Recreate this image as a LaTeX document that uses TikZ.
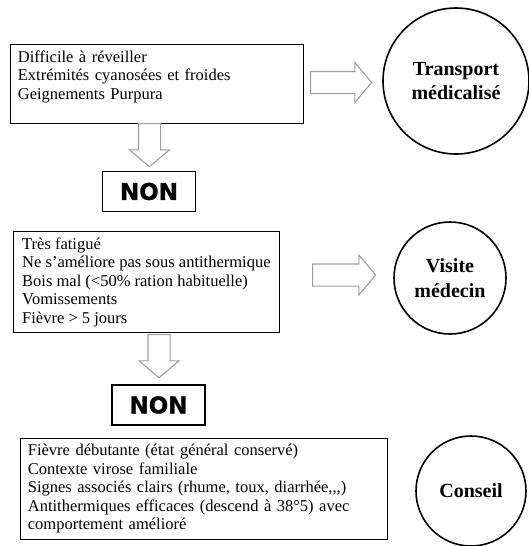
\documentclass[tikz,border=0pt]{standalone}
\usepackage{fontspec}
\setmainfont{Liberation Serif}
\newfontfamily\nonfont[BoldFeatures={FakeBold=1.2}]{DejaVu Sans}
\usetikzlibrary{shapes.arrows}

\begin{document}
\begin{tikzpicture}[x=1pt, y=-1pt, crit/.style={draw, rectangle, line width=0.8pt, inner xsep=7.5pt, inner ysep=6pt, align=left, anchor=north west, font=\fontsize{16.5}{18.5}\selectfont}, dec/.style={draw, circle, line width=1.6pt, inner sep=0pt, align=center, font=\fontsize{20}{24.5}\selectfont\bfseries}, non/.style={draw, rectangle, line width=1.2pt, minimum width=93pt, minimum height=40pt, font=\nonfont\fontsize{23}{24}\selectfont\bfseries}, fleche/.style={single arrow, draw=black!38, fill=white, line width=1.1pt, inner sep=10.5pt, single arrow head extend=9pt, single arrow tip angle=100}, bas/.style={fleche, shape border rotate=270}]
                \useasboundingbox (0,0) rectangle (528,546);
                % boxes
                \node[crit, text width=278pt] (crit1) at (10,44) {Difficile à réveiller\\Extrémités cyanosées et froides\\Geignements Purpura\\\mbox{}};
                \node[crit, minimum width=266pt] (crit2) at (13,231) {Très fatigué\\Ne s'améliore pas sous antithermique\\Bois mal (<50\% ration habituelle)\\Vomissements\\Fièvre > 5 jours};
                \node[crit, text width=352pt] (crit3) at (20,438) {Fièvre débutante (état général conservé)\\Contexte virose familiale\\Signes associés clairs (rhume, toux, diarrhée{,}{,}{,})\\Antithermiques efficaces (descend à 38°5) avec\\comportement amélioré};
                % decisions
                \node[dec, minimum size=146pt] (transport) at (456,81) {Transport\\médicalisé};
                \node[dec, minimum size=112pt] (visite) at (450,278) {Visite\\médecin};
                \node[dec, minimum size=110pt] (conseil) at (471,491) {Conseil};
                \node[non] (non1) at (149,191.5) {NON};
                \node[non] (non2) at (158.5,405) {NON};
                % arrows
                \node[fleche, minimum height=61pt] (f1) at (336.5,82.5) {};
                \node[fleche, minimum height=63pt] (f2) at (339.5,275) {};
                \node[bas, minimum height=43pt] (f3) at (149.5,140.5) {};
                \node[bas, minimum height=43pt] (f4) at (159,351.5) {};
            \end{tikzpicture}
\end{document}
